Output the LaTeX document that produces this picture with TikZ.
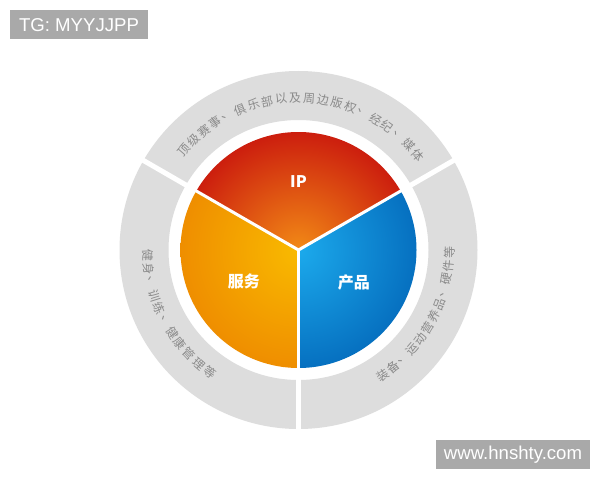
\documentclass[tikz,border=0pt]{standalone}
\usepackage{fontspec}
\setmainfont{Liberation Sans}
\newfontfamily\cjk{Noto Sans CJK SC}
\definecolor{ringgray}{HTML}{DDDDDD}
\definecolor{arcgray}{HTML}{8A8A8A}
\definecolor{ipin}{HTML}{F28A16}
\definecolor{ipout}{HTML}{CC1E0E}
\definecolor{svin}{HTML}{F9BA00}
\definecolor{svout}{HTML}{EF8E00}
\definecolor{prin}{HTML}{1CAAEC}
\definecolor{prout}{HTML}{0670C0}
\definecolor{markgray}{HTML}{A9A9A9}
\begin{document}
\begin{tikzpicture}[x=1pt,y=1pt,
  arctext/.style={font=\cjk\fontsize{12}{12}\selectfont, text=arcgray, inner sep=0pt},
  pielabel/.style={font=\cjk\bfseries\fontsize{16}{16}\selectfont, text=white, inner sep=0pt},
  markbox/.style={fill=markgray, text=white, inner sep=0pt, minimum height=29pt,
    font=\fontsize{18.6}{18.6}\selectfont}]
\useasboundingbox (0,0) rectangle (600,480);
\fill[white] (0,0) rectangle (600,480);
\coordinate (C) at (298.5,230);
% outer ring
\fill[ringgray, even odd rule] (C) circle[radius=179] (C) circle[radius=130];
\foreach \a in {30,150,270}
  \draw[white, line width=5pt] ([shift={(\a:126)}]C) -- ([shift={(\a:183)}]C);
% pie sectors
\begin{scope}
  \clip (C) -- ([shift={(30:118)}]C) arc[start angle=30, end angle=150, radius=118] -- cycle;
  \shade[inner color=ipin, outer color=ipout] (C) circle[radius=118];
\end{scope}
\begin{scope}
  \clip (C) -- ([shift={(150:118)}]C) arc[start angle=150, end angle=270, radius=118] -- cycle;
  \shade[inner color=svin, outer color=svout] (C) circle[radius=118];
\end{scope}
\begin{scope}
  \clip (C) -- ([shift={(270:118)}]C) arc[start angle=270, end angle=390, radius=118] -- cycle;
  \shade[inner color=prin, outer color=prout] (C) circle[radius=118];
\end{scope}
\foreach \a in {30,150,270}
  \draw[white, line width=3pt] (C) -- ([shift={(\a:119)}]C);
% pie labels
\node[pielabel] (ip) at ([shift={(90:68.5)}]C) {IP};
\node[pielabel] (fw) at ([shift={(210:63)}]C) {服务};
\node[pielabel] (cp) at ([shift={(330:64)}]C) {产品};
% arc texts
\foreach \ch [count=\i from 0] in {顶,级,赛,事,、,俱,乐,部,以,及,周,边,版,权,、,经,纪,、,媒,体} {
  \pgfmathsetmacro\ang{139-\i*5.3}
  \node[arctext, rotate=\ang-90] (top\i) at ([shift={(\ang:152)}]C) {\ch};
}
\foreach \ch [count=\i from 0] in {健,身,、,训,练,、,健,康,管,理,等} {
  \pgfmathsetmacro\ang{182+\i*5.2}
  \node[arctext, rotate=\ang+90] (left\i) at ([shift={(\ang:151)}]C) {\ch};
}
\foreach \ch [count=\i from 0] in {装,备,、,运,动,营,养,品,、,硬,件,等} {
  \pgfmathsetmacro\ang{304+\i*5.0}
  \node[arctext, rotate=\ang+90] (right\i) at ([shift={(\ang:151)}]C) {\ch};
}
% watermarks
\node[markbox, minimum width=138pt, text height=13.3pt, text depth=0pt] (tg) at (79,455.5) {TG: MYYJJPP};
\node[markbox, minimum width=154pt, text height=13.3pt, text depth=3.5pt] (www) at (513,25.5) {www.hnshty.com};
\end{tikzpicture}
\end{document}
